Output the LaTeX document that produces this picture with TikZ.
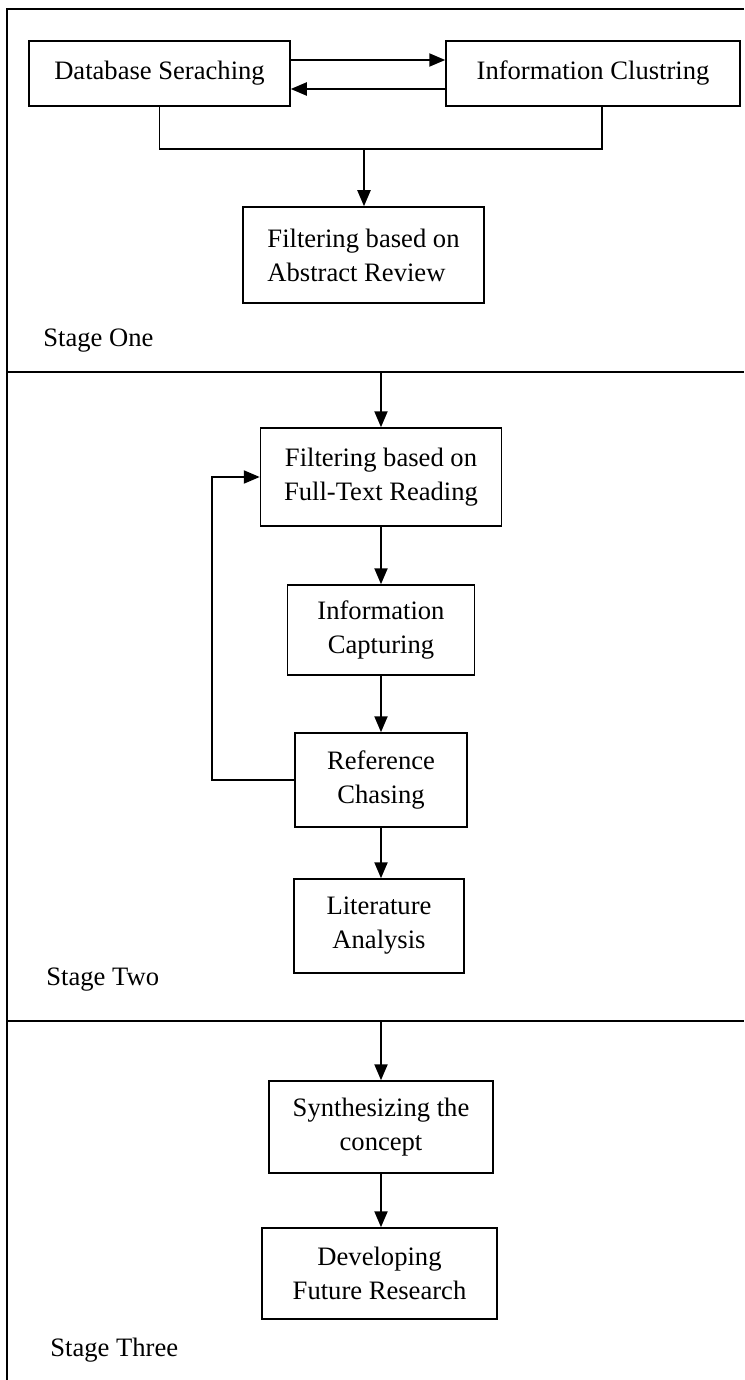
\documentclass[tikz,border=0pt]{standalone}
\usepackage{fontspec}
\setmainfont{Liberation Serif}
\usetikzlibrary{arrows.meta}
\tikzset{stagebox/.style={draw, line width=0.75pt, align=center, inner sep=0pt, font=\fontsize{13.3}{17}\selectfont},
  flow/.style={line width=1.1pt, -{Triangle[length=8pt,width=6.5pt]}},
  frame/.style={line width=0.75pt},
  stagelabel/.style={anchor=west, inner sep=0pt, font=\fontsize{13.3}{17}\selectfont}}

\begin{document}
\begin{tikzpicture}[x=0.5pt, y=-0.5pt]
    \useasboundingbox (0,0) rectangle (744,1380);
    \draw[frame] (744,9) -- (7,9) -- (7,1380);
    \draw[frame] (7,372) -- (744,372);
    \draw[frame] (7,1021) -- (744,1021);
    \coordinate (s1) at (381,372);
    \coordinate (s2) at (381,1021);
    \coordinate (join) at (364,149);
    \coordinate (loop) at (212,780);
    \node[stagebox, minimum width=130.5pt, minimum height=32.5pt] (dbs) at (159.5,73.5) {Database Seraching};
    \node[stagebox, minimum width=147pt, minimum height=32.5pt] (clu) at (593,73.5) {Information Clustring};
    \node[stagebox, minimum width=120.5pt, minimum height=48pt, align=left] (abs) at (363.5,255) {Filtering based on\\Abstract Review};
    \node[stagebox, minimum width=120.5pt, minimum height=49pt] (full) at (381,477) {Filtering based on\\Full-Text Reading};
    \node[stagebox, minimum width=93.5pt, minimum height=45pt] (cap) at (381,630) {Information\\Capturing};
    \node[stagebox, minimum width=86pt, minimum height=47pt] (ref) at (381,780) {Reference\\Chasing};
    \node[stagebox, minimum width=85pt, minimum height=47pt] (lit) at (379,926) {Literature\\Analysis};
    \node[stagebox, minimum width=112pt, minimum height=46pt] (syn) at (381,1127) {Synthesizing the\\concept};
    \node[stagebox, minimum width=117.5pt, minimum height=45.5pt] (dev) at (379.5,1273.5) {Developing\\Future Research};
    \node[stagelabel] (one) at (43,341) {Stage One};
    \node[stagelabel] (two) at (46,980) {Stage Two};
    \node[stagelabel] (three) at (50,1350) {Stage Three};
    \draw[flow] ([yshift=6.75pt]dbs.east) -- ([yshift=6.75pt]clu.west);
    \draw[flow] ([yshift=-7.75pt]clu.west) -- ([yshift=-7.75pt]dbs.east);
    \draw[frame] (dbs.south) |- (join) -| ([xshift=4.5pt]clu.south);
    \draw[flow] (join) -- (abs.north -| join);
    \draw[flow] (s1) -- (full.north -| s1);
    \draw[flow] (full) -- (cap);
    \draw[flow] (cap) -- (ref);
    \draw[flow] (ref) -- (lit.north -| ref);
    \draw[flow] (ref.west) -- (loop) |- (full.west);
    \draw[flow] (s2) -- (syn.north -| s2);
    \draw[flow] (syn) -- (dev.north -| syn);
\end{tikzpicture}
\end{document}
